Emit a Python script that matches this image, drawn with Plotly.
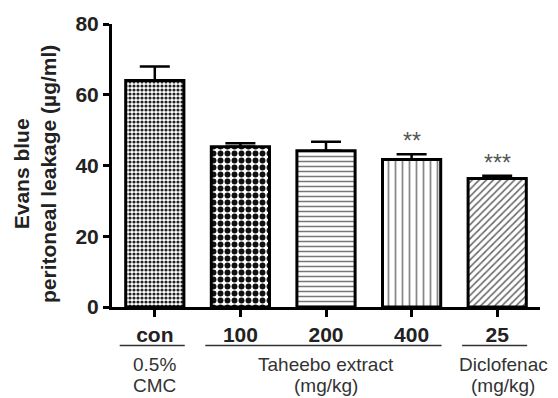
import plotly.graph_objects as go

# Group labels and measurements
categories = ["con", "100", "200", "400", "25"]
means = [64.0, 45.3, 44.2, 41.7, 36.3]
sems = [4.0, 1.0, 2.5, 1.5, 0.8]
significance = ["", "", "", "**", "***"]
y_ticks = [0, 20, 40, 60, 80]

pattern_shapes = [".", ".", "-", "|", "/"]
pattern_sizes = [4, 7, 5, 7, 5]
pattern_solidity = [0.5, 0.55, 0.3, 0.25, 0.3]
pattern_colors = ["#222222", "#111111", "#777777", "#888888", "#666666"]

W, H = 558, 398
L, R, T, B = 112, 18, 20, 91
plot_h = H - T - B

fig = go.Figure()
for i, cat in enumerate(categories):
    fig.add_trace(go.Bar(
        x=[i], y=[means[i]],
        width=0.68,
        marker=dict(
            color="white",
            line=dict(color="black", width=3),
            pattern=dict(shape=pattern_shapes[i], size=pattern_sizes[i],
                         solidity=pattern_solidity[i],
                         fgcolor=pattern_colors[i], bgcolor="white",
                         fillmode="replace"),
        ),
        error_y=dict(type="data", symmetric=False, array=[sems[i]],
                     arrayminus=[0], color="black", thickness=2.5, width=15),
        showlegend=False,
    ))
    if significance[i]:
        fig.add_annotation(x=i, y=means[i] + sems[i], text=significance[i],
                           showarrow=False, yanchor="bottom", yshift=-2,
                           font=dict(family="Liberation Sans", size=23,
                                     color="#555555"))


def py(pix):
    """Convert a pixel row of the page to paper coordinates."""
    return (H - B - pix) / plot_h


# Group underlines and two-line group names beneath the tick labels
groups = [
    (("0.5%", "CMC"), 0, 0, 0.0),
    (("Taheebo extract", "(mg/kg)"), 1, 3, 2.0),
    (("Diclofenac", "(mg/kg)"), 4, 4, 4.07),
]
label_rows = [365, 387]
for lines, a, b, cx in groups:
    fig.add_shape(type="line", xref="x", yref="paper",
                  x0=a - 0.41, x1=b + 0.35,
                  y0=py(346), y1=py(346),
                  line=dict(color="#333333", width=1.5))
    for text, row in zip(lines, label_rows):
        fig.add_annotation(xref="x", yref="paper", x=cx, y=py(row),
                           xanchor="center", yanchor="middle", text=text,
                           showarrow=False,
                           font=dict(family="Liberation Sans", size=19,
                                     color="#333333"))

# Two-line y-axis title
fig.add_annotation(xref="paper", yref="paper", x=0, xshift=-L + 35, y=0.47,
                   xanchor="center", yanchor="middle",
                   text="<b>Evans blue<br>peritoneal leakage (µg/ml)</b>",
                   textangle=-90, showarrow=False,
                   font=dict(family="Liberation Sans", size=21, color="#222222"))

fig.update_layout(
    width=W, height=H,
    margin=dict(l=L, r=R, t=T, b=B),
    plot_bgcolor="white", paper_bgcolor="white",
    bargap=0.3,
)
fig.update_xaxes(
    range=[-0.5, 4.5], tickmode="array", tickvals=list(range(len(categories))),
    ticktext=[f"<b>{c}</b>" for c in categories],
    showline=True, linecolor="black", linewidth=3,
    ticks="outside", ticklen=7, tickwidth=3, tickcolor="black",
    showgrid=False, zeroline=False,
    tickfont=dict(family="Liberation Sans", size=21, color="#222222"),
)
fig.update_yaxes(
    range=[0, 80], tickmode="array", tickvals=y_ticks,
    ticktext=[f"<b>{v}</b>" for v in y_ticks],
    showline=True, linecolor="black", linewidth=3,
    ticks="outside", ticklen=6, tickwidth=3, tickcolor="black",
    showgrid=False, zeroline=False,
    tickfont=dict(family="Liberation Sans", size=21, color="#222222"),
)

fig.write_html("out.html")
